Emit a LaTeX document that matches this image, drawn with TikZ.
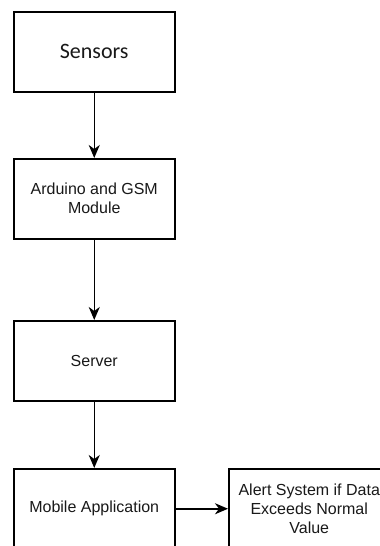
\documentclass[tikz,border=0pt]{standalone}
\usepackage{fontspec}
\setmainfont{Liberation Sans}
\newfontfamily\calfont{Carlito}
\usetikzlibrary{arrows.meta}
\begin{document}
\begin{tikzpicture}[x=1pt,y=-1pt,
  box/.style={draw=black, line width=1.5pt, minimum width=161pt, minimum height=80pt, inner sep=0pt, anchor=north west, align=center, text=black!90, font=\fontsize{16}{19}\selectfont},
  arr/.style={line width=1.5pt, -{Stealth[length=13pt,width=11pt,inset=4pt]}}]
\path[use as bounding box] (0,0) rectangle (380,546);
\clip (0,0) rectangle (380,546);
\fill[white] (0,0) rectangle (380,546);
\node[box, font=\calfont\fontsize{22}{26}\selectfont] (sens) at (13,11) {Sensors};
\node[box] (ard) at (13,158) {Arduino and GSM\\Module};
\node[box] (serv) at (13,320) {Server};
\node[box] (mob) at (13,468) {Mobile Application};
\node[box] (alert) at (228,468) {Alert System if Data\\Exceeds Normal\\Value};
\draw[arr] (sens) -- (ard);
\draw[arr] (ard) -- (serv);
\draw[arr] (serv) -- (mob);
\draw[arr] (mob) -- (alert);
\end{tikzpicture}
\end{document}
